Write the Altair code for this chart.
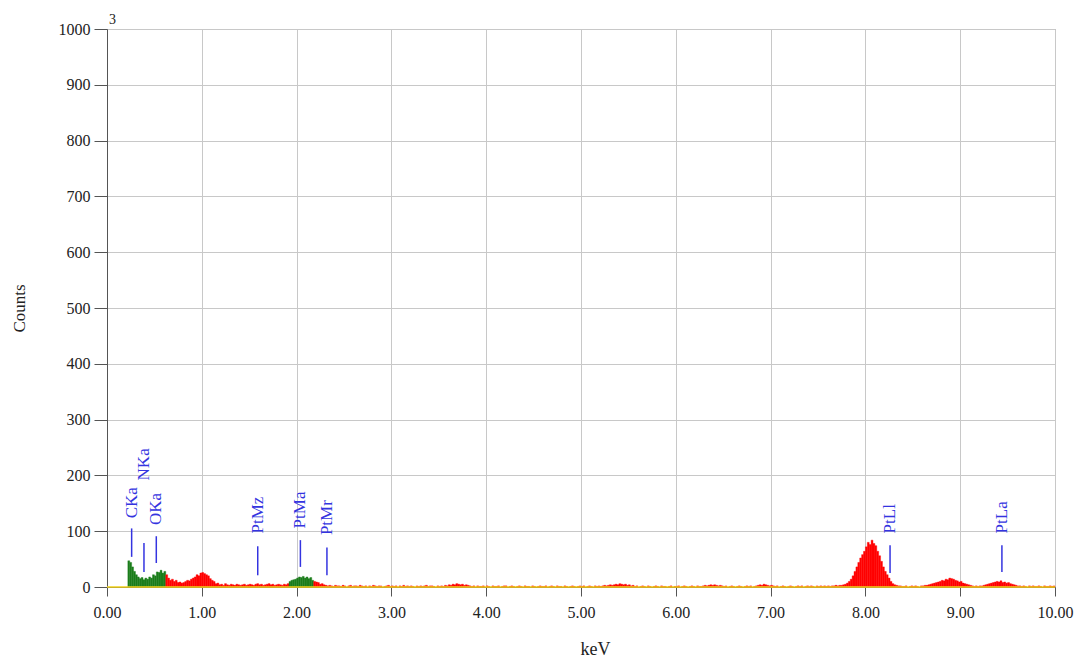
import altair as alt
import pandas as pd

BIN = 0.02

# counts per 0.02 keV channel, one list per keV
counts_0 = [0, 0, 0, 0, 0, 0, 0, 0, 0, 0,
            0, 47, 44, 36, 28, 22, 18, 15, 17, 13,
            16, 14, 18, 16, 22, 20, 27, 26, 30, 25,
            28, 22, 16, 12, 14, 10, 12, 8, 9, 7,
            8, 10, 12, 11, 14, 16, 18, 22, 20, 25]
counts_1 = [26, 24, 22, 20, 15, 12, 10, 6, 7, 4,
            5, 3, 6, 4, 3, 5, 4, 3, 5, 4,
            3, 4, 5, 3, 4, 5, 4, 3, 5, 6,
            4, 5, 3, 4, 5, 6, 4, 5, 3, 4,
            5, 4, 3, 5, 4, 6, 10, 12, 13, 14]
counts_2 = [16, 18, 17, 19, 16, 18, 15, 17, 12, 10,
            9, 8, 5, 6, 4, 3, 2, 3, 2, 1,
            3, 2, 2, 1, 3, 2, 0, 2, 3, 1,
            2, 2, 1, 3, 2, 1, 2, 0, 2, 1,
            3, 2, 1, 2, 2, 0, 1, 2, 3, 1]
counts_3 = [2, 1, 2, 0, 2, 1, 3, 1, 2, 1,
            2, 1, 0, 2, 1, 2, 1, 2, 3, 1,
            2, 2, 1, 0, 2, 1, 2, 1, 3, 2,
            4, 3, 5, 4, 6, 5, 4, 5, 3, 4,
            3, 2, 1, 2, 0, 2, 1, 1, 2, 0]
counts_4 = [2, 1, 0, 2, 1, 1, 2, 0, 1, 2,
            2, 0, 1, 2, 1, 0, 1, 2, 1, 0,
            2, 1, 1, 0, 2, 1, 0, 1, 2, 1,
            1, 2, 0, 1, 2, 1, 0, 2, 1, 1,
            0, 2, 1, 0, 1, 2, 1, 0, 1, 2]
counts_5 = [1, 2, 0, 1, 2, 1, 0, 2, 1, 2,
            1, 2, 3, 2, 3, 4, 3, 4, 5, 4,
            6, 5, 4, 5, 3, 4, 2, 3, 1, 2,
            0, 1, 2, 1, 0, 2, 1, 0, 1, 2,
            1, 0, 2, 1, 1, 0, 1, 2, 0, 1]
counts_6 = [1, 2, 0, 1, 2, 1, 0, 1, 2, 1,
            0, 2, 1, 1, 2, 3, 2, 3, 4, 3,
            4, 3, 2, 3, 2, 1, 2, 0, 1, 2,
            1, 0, 1, 2, 1, 0, 1, 2, 1, 2,
            0, 1, 2, 3, 4, 3, 5, 4, 3, 2]
counts_7 = [3, 2, 1, 2, 0, 1, 2, 1, 0, 1,
            2, 1, 0, 1, 2, 1, 2, 0, 1, 2,
            1, 2, 1, 0, 2, 1, 2, 1, 2, 1,
            2, 1, 2, 2, 3, 2, 3, 3, 4, 5,
            7, 10, 14, 20, 28, 36, 44, 52, 58, 64]
counts_8 = [72, 80, 76, 84, 78, 74, 64, 56, 46, 36,
            28, 22, 16, 10, 6, 4, 3, 2, 2, 1,
            1, 2, 0, 1, 2, 1, 2, 1, 0, 2,
            2, 3, 3, 4, 5, 6, 7, 8, 9, 10,
            12, 11, 14, 13, 16, 15, 14, 12, 11, 9]
counts_9 = [10, 7, 6, 5, 4, 3, 2, 1, 2, 1,
            2, 2, 3, 4, 5, 6, 7, 8, 9, 10,
            9, 11, 8, 9, 7, 8, 6, 5, 4, 3,
            2, 2, 1, 2, 1, 0, 2, 1, 2, 1,
            1, 2, 1, 0, 2, 1, 1, 2, 1, 2]

# energy windows of identified elements (drawn green)
green_windows = [(0.22, 0.62), (1.92, 2.18)]

# peak markers
marker_names = ["CKa", "NKa", "OKa", "PtMz", "PtMa", "PtMr", "PtLl", "PtLa"]
marker_kev = [0.26, 0.39, 0.52, 1.59, 2.04, 2.32, 8.26, 9.44]
marker_lo = [54, 27, 43, 21, 36, 21, 25, 27]
marker_hi = [105, 79, 91, 73, 84, 71, 75, 75]
marker_label = [123, 191, 111, 96, 105, 93, 96, 96]

x_ticks = [0, 1, 2, 3, 4, 5, 6, 7, 8, 9, 10]
y_ticks = [0, 100, 200, 300, 400, 500, 600, 700, 800, 900, 1000]

all_counts = (counts_0 + counts_1 + counts_2 + counts_3 + counts_4 +
              counts_5 + counts_6 + counts_7 + counts_8 + counts_9)
rows = []
for i, c in enumerate(all_counts):
    e0 = round(i * BIN, 4)
    e1 = round(e0 + BIN, 4)
    grp = "id" if any(a - 1e-9 <= e0 < b - 1e-9 for a, b in green_windows) else "bg"
    if c > 0:
        rows.append({"e0": e0, "e1": e1, "c": c, "grp": grp})
spec = pd.DataFrame(rows)

markers = pd.DataFrame({"name": marker_names, "kev": marker_kev,
                        "lo": marker_lo, "hi": marker_hi, "lab": marker_label})

FONT = "Liberation Serif"
BLUE = "#3434e0"

xscale = alt.Scale(domain=[0, 10], nice=False, zero=False)
yscale = alt.Scale(domain=[0, 1000], nice=False)

xaxis = alt.Axis(values=x_ticks, format=".2f", title="keV", grid=True,
                 gridColor="#c8c8c8", domainColor="#555555", tickColor="#555555",
                 tickSize=9, labelPadding=8, labelFont=FONT, labelFontSize=16,
                 labelColor="#222222", titleFont=FONT, titleFontSize=18,
                 titleFontWeight="normal", titleColor="#222222",
                 titleX=488, titleY=62, titleBaseline="middle", labelFlush=False)
yaxis = alt.Axis(values=y_ticks, format="d", title="Counts", grid=True,
                 gridColor="#c8c8c8", domainColor="#555555", tickColor="#555555",
                 tickSize=13, labelPadding=4, labelFont=FONT, labelFontSize=16,
                 labelColor="#222222", titleFont=FONT, titleFontSize=17,
                 titleFontWeight="normal", titleColor="#222222",
                 titleX=-88, titleY=279, titleAngle=270, titleAlign="center",
                 titleBaseline="middle", labelFlush=False)

cscale = alt.Scale(domain=["id", "bg"], range=["#1b7d1b", "#ff0000"])

bars = alt.Chart(spec).mark_rect(strokeWidth=0.4).encode(
    x=alt.X("e0:Q", scale=xscale, axis=xaxis),
    x2="e1:Q",
    y=alt.Y("c:Q", scale=yscale, axis=yaxis),
    y2=alt.Y2("zero:Q"),
    color=alt.Color("grp:N", scale=cscale, legend=None),
    stroke=alt.Stroke("grp:N", scale=cscale, legend=None),
).transform_calculate(zero="0")

baseline = alt.Chart(pd.DataFrame({"a": [0], "b": [10], "z": [0]})).mark_rule(
    color="#f2d21a", strokeWidth=2, opacity=0.75).encode(
    x=alt.X("a:Q", scale=xscale, axis=xaxis), x2="b:Q",
    y=alt.Y("z:Q", scale=yscale, axis=yaxis))

ticks = alt.Chart(markers).mark_rule(color=BLUE, strokeWidth=1.5).encode(
    x=alt.X("kev:Q", scale=xscale, axis=xaxis),
    y=alt.Y("lo:Q", scale=yscale, axis=yaxis), y2="hi:Q")

labels = alt.Chart(markers).mark_text(
    angle=270, align="left", baseline="middle", font=FONT, fontSize=17,
    color=BLUE).encode(
    x=alt.X("kev:Q", scale=xscale, axis=xaxis),
    y=alt.Y("lab:Q", scale=yscale, axis=yaxis), text="name:N")

corner = alt.Chart(pd.DataFrame({"t": ["3"], "x0": [0], "y0": [1000]})).mark_text(
    align="left", baseline="middle", font=FONT, fontSize=14, color="#222222",
    dx=2, dy=-9).encode(
    x=alt.X("x0:Q", scale=xscale, axis=xaxis),
    y=alt.Y("y0:Q", scale=yscale, axis=yaxis), text="t:N")

chart = alt.layer(bars, baseline, ticks, labels, corner).properties(
    width=948, height=558,
    autosize=alt.AutoSizeParams(type="none"),
    padding={"left": 107, "top": 29, "right": 24, "bottom": 73},
    background="white",
).configure_view(stroke="#999999", strokeWidth=1)

chart.save("out.html", embed_options={"renderer": "svg", "actions": False})
